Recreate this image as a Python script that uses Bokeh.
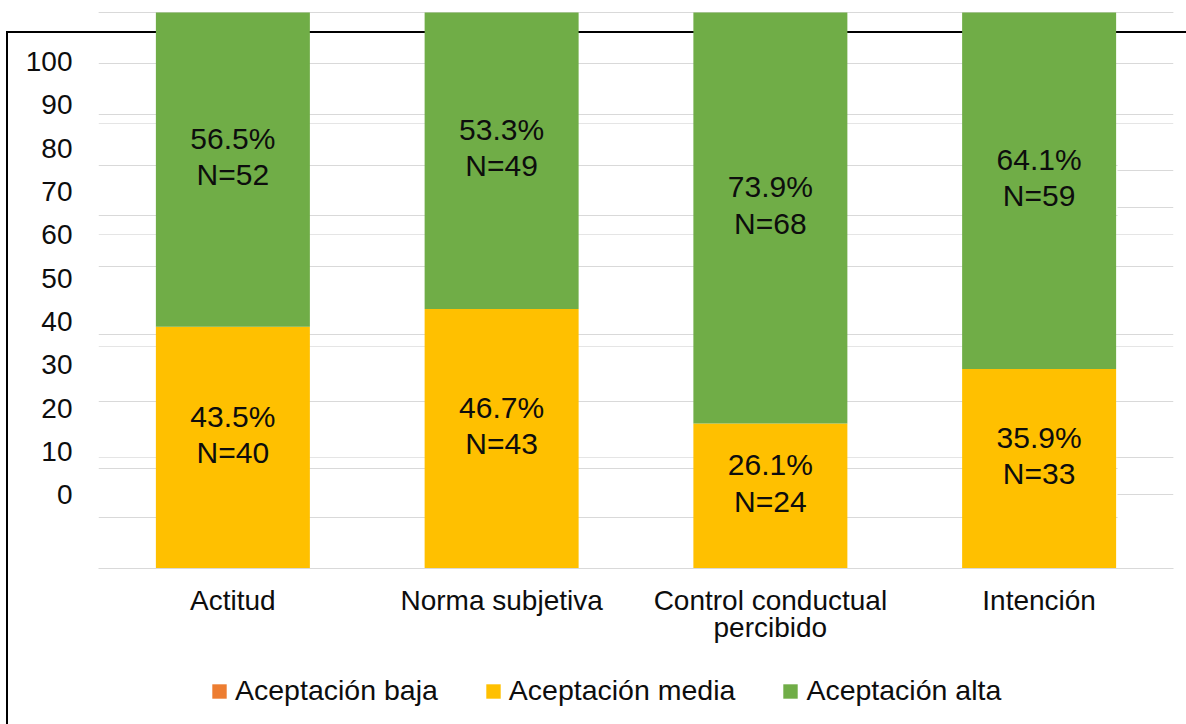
from bokeh.plotting import figure
from bokeh.layouts import column
from bokeh.models import (ColumnDataSource, FactorRange, Range1d, LinearAxis, Grid,
                          FixedTicker)
from bokeh.core.properties import value
from bokeh.embed import file_html
from bokeh.resources import INLINE

# ---- data ----
categories = ["Actitud", "Norma subjetiva", "Control conductual\npercibido", "Intención"]
series = ["Aceptación baja", "Aceptación media", "Aceptación alta"]
pct_baja = [0, 0, 0, 0]
pct_media = [43.5, 46.7, 26.1, 35.9]
pct_alta = [56.5, 53.3, 73.9, 64.1]
n_media = [40, 43, 24, 33]
n_alta = [52, 49, 68, 59]
y_tick_labels = [0, 10, 20, 30, 40, 50, 60, 70, 80, 90, 100]
colors = ["#ED7D31", "#FFC000", "#70AD47"]

# gridline levels as they appear in the picture (irregular)
grid_common = [100, 90.84, 81.67, 54.38, 42.09, 30.10]
grid_main = [72.50, 63.50, 18.04, 9.12]
grid_right = [71.54, 64.89, 19.91, 13.26]

FONT = "Liberation Sans"
TXT = "#0d0d0d"
STACK = ["baja", "media", "alta"]

src = ColumnDataSource(dict(cat=categories, baja=pct_baja, media=pct_media, alta=pct_alta))

# black outer frame line (partly off the page), drawn as CSS backgrounds
css_top = ("linear-gradient(#000,#000) 6px 31px / 2000px 2px no-repeat, "
           "linear-gradient(#000,#000) 6px 31px / 2px 2000px no-repeat, #ffffff")
css_bottom = "linear-gradient(#000,#000) 6px 0px / 2px 2000px no-repeat, #ffffff"

p = figure(x_range=FactorRange(factors=categories, range_padding=0),
           y_range=Range1d(0, 100.2),
           width=1186, height=660, output_backend="svg", toolbar_location=None,
           y_axis_location=None,
           min_border_left=98, min_border_right=13, min_border_top=11, min_border_bottom=92,
           styles={"background": css_top})
p.outline_line_color = None
p.background_fill_color = None
p.border_fill_color = None
p.xgrid.visible = False

# gridlines
for ticks, cb in [(grid_common, None), (grid_main, (0, 3.79)), (grid_right, (3.79, 4))]:
    g = Grid(dimension=1, ticker=FixedTicker(ticks=ticks),
             grid_line_color="#d9d9d9", grid_line_width=1)
    if cb is not None:
        g.cross_bounds = cb
    p.add_layout(g)

p.vbar_stack(STACK, x="cat", width=0.573, color=colors, line_color=None, source=src)

# data labels
lab_x = categories + categories
lab_y = [m / 2 for m in pct_media] + [m + a / 2 for m, a in zip(pct_media, pct_alta)]
lab_t = [f"{v:.1f}%\nN={n}" for v, n in zip(pct_media, n_media)] + \
        [f"{v:.1f}%\nN={n}" for v, n in zip(pct_alta, n_alta)]
p.text(x=lab_x, y=lab_y, text=lab_t, text_align="center", text_baseline="middle",
       text_font=value(FONT), text_font_size="30px", text_color=TXT,
       y_offset=-13, text_line_height=1.1)

# y axis with its own (offset) scale
p.extra_y_ranges = {"lab": Range1d(-16.96, 111.53)}
yax = LinearAxis(y_range_name="lab", ticker=FixedTicker(ticks=y_tick_labels))
yax.axis_line_color = None
yax.major_tick_line_color = None
yax.minor_tick_line_color = None
yax.major_tick_out = 0
yax.major_label_standoff = 26
yax.major_label_text_font = FONT
yax.major_label_text_font_size = "28px"
yax.major_label_text_color = TXT
p.add_layout(yax, "left")

xax = p.xaxis[0]
xax.axis_line_color = "#d9d9d9"
xax.axis_line_width = 1
xax.major_tick_line_color = None
xax.minor_tick_line_color = None
xax.major_tick_out = 0
xax.major_label_standoff = 16
xax.major_label_text_font = FONT
xax.major_label_text_font_size = "28px"
xax.major_label_text_color = TXT
xax.major_label_text_line_height = 0.9

# ---- legend strip (same series; bars lie outside its visible range) ----
q = figure(x_range=FactorRange(factors=categories, range_padding=0),
           y_range=Range1d(1000, 2000),
           width=1186, height=64, output_backend="svg", toolbar_location=None,
           x_axis_location=None, y_axis_location=None,
           min_border_left=0, min_border_right=0, min_border_top=0, min_border_bottom=0,
           styles={"background": css_bottom})
q.outline_line_color = None
q.background_fill_color = None
q.border_fill_color = None
q.xgrid.visible = False
q.ygrid.visible = False
q.vbar_stack(STACK, x="cat", width=0.573, color=colors, line_color=None, source=src,
             legend_label=series)

lg = q.legend[0]
lg.orientation = "horizontal"
lg.location = (112, 17)
lg.padding = 0
lg.margin = 0
lg.spacing = 46
lg.label_standoff = 7
lg.glyph_width = 18
lg.glyph_height = 18
lg.border_line_color = None
lg.background_fill_alpha = 0
lg.label_text_font = FONT
lg.label_text_font_size = "28.5px"
lg.label_text_color = TXT

layout = column(p, q, spacing=0)
open("out.html", "w").write(file_html(layout, INLINE))
